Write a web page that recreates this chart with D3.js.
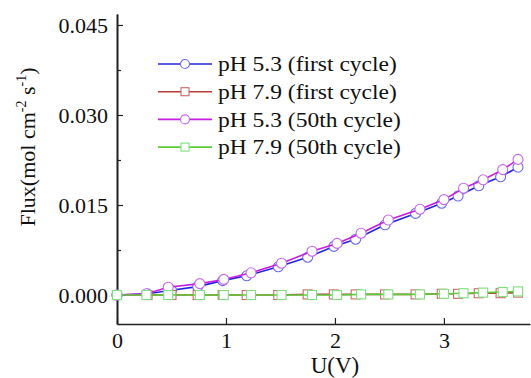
<!DOCTYPE html>
<html>
<head>
<meta charset="utf-8">
<script src="https://cdn.jsdelivr.net/npm/d3@7"></script>
<style>
  body { margin: 0; background: #fff; }
  svg { display: block; }
</style>
</head>
<body>
<svg id="chart"></svg>
<script>
// voltage (V) for each cycle
const uFirst = [0, 0.28, 0.5, 0.74, 0.97, 1.19, 1.48, 1.75, 1.99, 2.19, 2.46, 2.74, 2.98, 3.13, 3.32, 3.52, 3.68];
const u50 = [0, 0.27, 0.47, 0.76, 0.98, 1.23, 1.51, 1.79, 2.02, 2.24, 2.49, 2.78, 3.0, 3.18, 3.36, 3.54, 3.68];

// flux (mol cm-2 s-1)
const ph53First = [0, 0.0002, 0.0008, 0.0014, 0.0024, 0.0032, 0.0047, 0.0063, 0.0081, 0.0093, 0.0117, 0.0136, 0.0153, 0.0165, 0.0182, 0.0197, 0.0213];
const ph79First = [0, 0, 0, 0, 0, 0, 0, 0.0001, 0.0001, 0.0001, 0.0001, 0.0001, 0.0002, 0.0002, 0.0003, 0.0003, 0.0004];
const ph53Cyc50 = [0, 0.0002, 0.0013, 0.0019, 0.0026, 0.0037, 0.0053, 0.0073, 0.0086, 0.0103, 0.0125, 0.0143, 0.0159, 0.0178, 0.0192, 0.0209, 0.0226];
const ph79Cyc50 = [0, 0, 0, 0, 0, 0, 0, 0, 0, 0.0001, 0.0001, 0.0001, 0.0002, 0.0003, 0.0004, 0.0005, 0.0006];

const seriesNames = ["pH 5.3 (first cycle)", "pH 7.9 (first cycle)", "pH 5.3 (50th cycle)", "pH 7.9 (50th cycle)"];
const yTicks = [0, 0.015, 0.030, 0.045];
const xTicks = [0, 1, 2, 3];

const FONT = "Liberation Serif";

const series = [
  { name: seriesNames[0], x: uFirst, y: ph53First, line: "#2424e0", mark: "#6a6af0", shape: "circle" },
  { name: seriesNames[1], x: uFirst, y: ph79First, line: "#b83a3a", mark: "#cc6a6a", shape: "square" },
  { name: seriesNames[2], x: u50, y: ph53Cyc50, line: "#c81ee0", mark: "#c46af2", shape: "circle" },
  { name: seriesNames[3], x: u50, y: ph79Cyc50, line: "#5ccc3c", mark: "#7ee07e", shape: "square" }
];

const W = 531, H = 378;
const margin = { top: 14, right: 1, bottom: 54, left: 117 };
const iw = W - margin.left - margin.right;
const ih = H - margin.top - margin.bottom;

const svg = d3.select("#chart").attr("width", W).attr("height", H)
  .attr("font-family", FONT);
const g = svg.append("g").attr("transform", `translate(${margin.left},${margin.top})`);

const x = d3.scaleLinear().domain([0, 3.79]).range([0, iw]);
const y = d3.scaleLinear().domain([-0.00483, 0.04683]).range([ih, 0]);

// axes, ticks inward
const yAxis = d3.axisLeft(y).tickValues(yTicks).tickSize(-6).tickSizeOuter(0).tickPadding(9)
  .tickFormat(d3.format(".3f"));
const yMinor = d3.axisLeft(y).tickValues([0.0075, 0.0225, 0.0375]).tickSize(-4).tickSizeOuter(0).tickFormat("");
const xAxis = d3.axisBottom(x).tickValues(xTicks).tickSize(-6).tickSizeOuter(0).tickPadding(10)
  .tickFormat(d3.format("d"));

const ya = g.append("g").call(yAxis);
g.append("g").call(yMinor);
const xa = g.append("g").attr("transform", `translate(0,${ih})`).call(xAxis);

g.selectAll(".domain").attr("stroke", "#222").attr("stroke-width", 1.6);
g.selectAll(".tick line").attr("stroke", "#222").attr("stroke-width", 1.2);
g.selectAll("g").attr("font-family", FONT);
ya.selectAll("text").attr("font-size", 22).attr("fill", "#111").attr("dy", "0.35em");
xa.selectAll("text").attr("font-size", 22).attr("fill", "#111").attr("dy", "0.63em");

// series
const line = d3.line();
series.forEach(s => {
  const pts = s.x.map((v, i) => [x(v), y(s.y[i])]);
  g.append("path")
    .attr("d", line(pts))
    .attr("fill", "none")
    .attr("stroke", s.line)
    .attr("stroke-width", 1.6);
  if (s.shape === "circle") {
    g.selectAll(null).data(pts).join("circle")
      .attr("cx", d => d[0]).attr("cy", d => d[1]).attr("r", 5)
      .attr("fill", "#fff").attr("stroke", s.mark).attr("stroke-width", 1.1);
  } else {
    g.selectAll(null).data(pts).join("rect")
      .attr("x", d => d[0] - 4.5).attr("y", d => d[1] - 4.5)
      .attr("width", 9).attr("height", 9)
      .attr("fill", "#fff").attr("stroke", s.mark).attr("stroke-width", 1.1);
  }
});

// legend
const legend = svg.append("g").attr("transform", "translate(158,64)");
series.forEach((s, i) => {
  const row = legend.append("g").attr("transform", `translate(0,${i * 27.7})`);
  row.append("line").attr("x1", 0).attr("x2", 54).attr("y1", 0).attr("y2", 0)
    .attr("stroke", s.line).attr("stroke-width", 1.6);
  if (s.shape === "circle") {
    row.append("circle").attr("cx", 27).attr("cy", 0).attr("r", 4.5)
      .attr("fill", "#fff").attr("stroke", s.mark).attr("stroke-width", 1.1);
  } else {
    row.append("rect").attr("x", 23).attr("y", -4).attr("width", 8).attr("height", 8)
      .attr("fill", "#fff").attr("stroke", s.mark).attr("stroke-width", 1.1);
  }
  row.append("text").attr("transform", "translate(60,0) scale(1.12,1)").attr("dy", "0.35em")
    .attr("font-family", FONT).attr("font-size", 21).attr("fill", "#111").text(s.name);
});

// axis titles
svg.append("text")
  .attr("x", margin.left + x(2)).attr("y", 373)
  .attr("text-anchor", "middle").attr("font-family", FONT)
  .attr("font-size", 23).attr("fill", "#111").text("U(V)");

const yt = svg.append("text")
  .attr("transform", "translate(35,147) rotate(-90)")
  .attr("text-anchor", "middle").attr("font-family", FONT)
  .attr("font-size", 22).attr("fill", "#111");
yt.append("tspan").text("Flux(mol cm");
yt.append("tspan").attr("dy", -9).attr("font-size", 14).text("-2");
yt.append("tspan").attr("dy", 9).text(" s");
yt.append("tspan").attr("dy", -9).attr("font-size", 14).text("-1");
yt.append("tspan").attr("dy", 9).text(")");
</script>
</body>
</html>
